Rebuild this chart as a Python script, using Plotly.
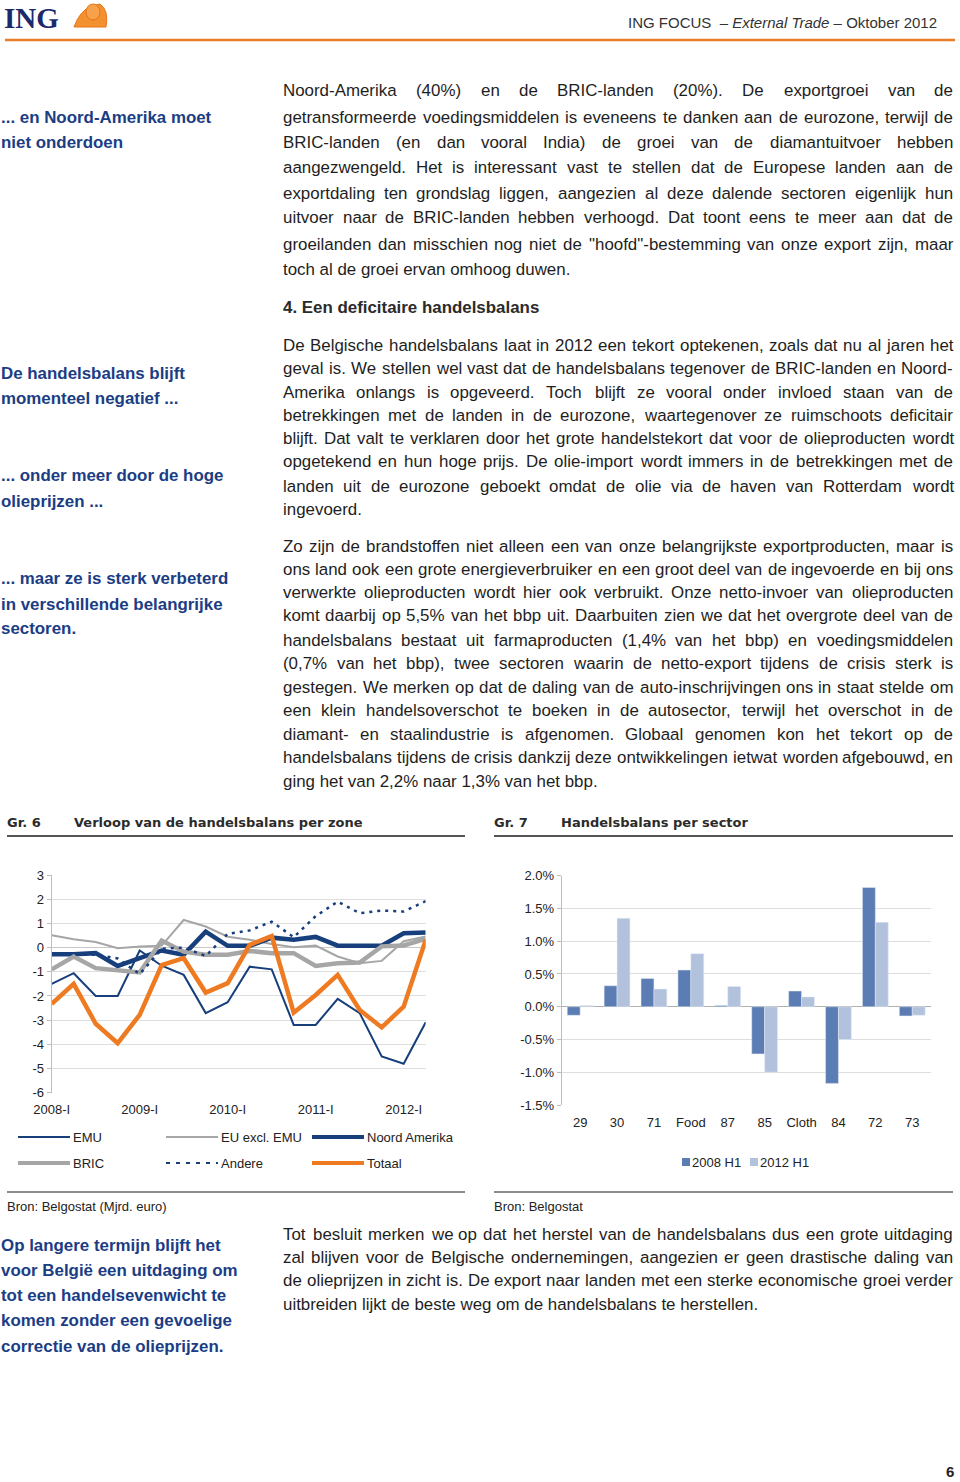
import plotly.graph_objects as go

W, H = 960, 1482

# ---------------- Chart 6 data (Mjrd. euro) ----------------
quarters = ["2008-I", "2008-II", "2008-III", "2008-IV", "2009-I", "2009-II", "2009-III", "2009-IV",
            "2010-I", "2010-II", "2010-III", "2010-IV", "2011-I", "2011-II", "2011-III", "2011-IV",
            "2012-I", "2012-II"]
year_ticks = ["2008-I", "2009-I", "2010-I", "2011-I", "2012-I"]
emu = [-1.50, -1.06, -2.00, -2.00, -0.12, -0.75, -1.13, -2.71, -2.26, -0.79, -0.90, -3.20, -3.20, -2.12, -2.71, -4.50, -4.80, -3.09]
eu_excl_emu = [0.51, 0.34, 0.23, -0.03, 0.04, 0.08, 1.14, 0.87, 0.45, 0.32, 0.15, 0.01, 0.08, -0.37, -0.65, -0.55, 0.26, 0.46]
noord_amerika = [-0.28, -0.28, -0.23, -0.76, -0.44, -0.12, -0.30, 0.66, 0.07, 0.07, 0.41, 0.32, 0.44, 0.08, 0.08, 0.08, 0.59, 0.62]
bric = [-0.90, -0.37, -0.85, -0.95, -1.03, 0.29, -0.17, -0.30, -0.30, -0.14, -0.23, -0.23, -0.76, -0.65, -0.62, 0.05, 0.09, 0.36]
andere = [-0.30, -0.30, -0.30, -0.45, -1.10, -0.05, 0.00, -0.35, 0.57, 0.71, 1.07, 0.43, 1.30, 1.90, 1.42, 1.53, 1.49, 1.92]
totaal = [-2.33, -1.50, -3.15, -3.95, -2.78, -0.72, -0.44, -1.86, -1.47, 0.11, 0.48, -2.69, -1.96, -1.13, -2.58, -3.30, -2.44, 0.32]
y6_ticks = [3, 2, 1, 0, -1, -2, -3, -4, -5, -6]

# ---------------- Chart 7 data (% bbp) ----------------
sectors = ["29", "30", "71", "Food", "87", "85", "Cloth", "84", "72", "73"]
h1_2008 = [-0.13, 0.32, 0.43, 0.56, 0.02, -0.72, 0.24, -1.17, 1.82, -0.14]
h1_2012 = [0.02, 1.35, 0.27, 0.81, 0.31, -1.00, 0.15, -0.50, 1.29, -0.13]
y7_ticks = [2.0, 1.5, 1.0, 0.5, 0.0, -0.5, -1.0, -1.5]

# ---------------- Texts ----------------
header_right = "ING FOCUS  – <i>External Trade</i> – Oktober 2012"
side_notes = [
    (117, "... en Noord-Amerika moet"), (142, "niet onderdoen"),
    (373, "De handelsbalans blijft"), (399, "momenteel negatief ..."),
    (476, "... onder meer door de hoge"), (501, "olieprijzen ..."),
    (578, "... maar ze is sterk verbeterd"), (604, "in verschillende belangrijke"), (629, "sectoren."),
    (1245, "Op langere termijn blijft het"), (1270, "voor België een uitdaging om"),
    (1295, "tot een handelsevenwicht te"), (1320, "komen zonder een gevoelige"),
    (1346, "correctie van de olieprijzen."),
]
# (y, text, justified?)
body_lines = [
    (91, "Noord-Amerika (40%) en de BRIC-landen (20%). De exportgroei van de", True),
    (117, "getransformeerde voedingsmiddelen is eveneens te danken aan de eurozone, terwijl de", True),
    (142, "BRIC-landen (en dan vooral India) de groei van de diamantuitvoer hebben", True),
    (168, "aangezwengeld. Het is interessant vast te stellen dat de Europese landen aan de", True),
    (193, "exportdaling ten grondslag liggen, aangezien al deze dalende sectoren eigenlijk hun", True),
    (218, "uitvoer naar de BRIC-landen hebben verhoogd. Dat toont eens te meer aan dat de", True),
    (244, "groeilanden dan misschien nog niet de \"hoofd\"-bestemming van onze export zijn, maar", True),
    (269, "toch al de groei ervan omhoog duwen.", False),
    (345, "De Belgische handelsbalans laat in 2012 een tekort optekenen, zoals dat nu al jaren het", True),
    (368, "geval is. We stellen wel vast dat de handelsbalans tegenover de BRIC-landen en Noord-", True),
    (392, "Amerika onlangs is opgeveerd. Toch blijft ze vooral onder invloed staan van de", True),
    (415, "betrekkingen met de landen in de eurozone, waartegenover ze ruimschoots deficitair", True),
    (439, "blijft. Dat valt te verklaren door het grote handelstekort dat voor de olieproducten wordt", True),
    (462, "opgetekend en hun hoge prijs. De olie-import wordt immers in de betrekkingen met de", True),
    (486, "landen uit de eurozone geboekt omdat de olie via de haven van Rotterdam wordt", True),
    (509, "ingevoerd.", False),
    (546, "Zo zijn de brandstoffen niet alleen een van onze belangrijkste exportproducten, maar is", True),
    (569, "ons land ook een grote energieverbruiker en een groot deel van de ingevoerde en bij ons", True),
    (593, "verwerkte olieproducten wordt hier ook verbruikt. Onze netto-invoer van olieproducten", True),
    (616, "komt daarbij op 5,5% van het bbp uit. Daarbuiten zien we dat het overgrote deel van de", True),
    (640, "handelsbalans bestaat uit farmaproducten (1,4% van het bbp) en voedingsmiddelen", True),
    (663, "(0,7% van het bbp), twee sectoren waarin de netto-export tijdens de crisis sterk is", True),
    (687, "gestegen. We merken op dat de daling van de auto-inschrijvingen ons in staat stelde om", True),
    (710, "een klein handelsoverschot te boeken in de autosector, terwijl het overschot in de", True),
    (734, "diamant- en staalindustrie is afgenomen. Globaal genomen kon het tekort op de", True),
    (757, "handelsbalans tijdens de crisis dankzij deze ontwikkelingen ietwat worden afgebouwd, en", True),
    (781, "ging het van 2,2% naar 1,3% van het bbp.", False),
    (1234, "Tot besluit merken we op dat het herstel van de handelsbalans dus een grote uitdaging", True),
    (1257, "zal blijven voor de Belgische ondernemingen, aangezien er geen drastische daling van", True),
    (1280, "de olieprijzen in zicht is. De export naar landen met een sterke economische groei verder", True),
    (1304, "uitbreiden lijkt de beste weg om de handelsbalans te herstellen.", False),
]
section_heading = "4. Een deficitaire handelsbalans"

FONT = "Liberation Sans, Arial, sans-serif"
BODY = "#1e1e1e"
NAVY_TXT = "#1b3d84"
NAVY = "#173f7c"
ORANGE = "#ee7a22"
GRAY = "#a6a6a6"
BODY_SIZE = 16.9

# Arial / Liberation Sans advance widths (per 1000 em)
AW = {' ': 278, '!': 278, '"': 355, '%': 889, '(': 333, ')': 333, ',': 278, '-': 333, '.': 278,
      ':': 278, ';': 278, '?': 556, 'A': 667, 'B': 667, 'C': 722, 'D': 722, 'E': 667, 'F': 611,
      'G': 778, 'H': 722, 'I': 278, 'J': 500, 'K': 667, 'L': 556, 'M': 833, 'N': 722, 'O': 778,
      'P': 667, 'Q': 778, 'R': 722, 'S': 667, 'T': 611, 'U': 722, 'V': 667, 'W': 944, 'X': 667,
      'Y': 667, 'Z': 611, 'a': 556, 'b': 556, 'c': 500, 'd': 556, 'e': 556, 'f': 278, 'g': 556,
      'h': 556, 'i': 222, 'j': 222, 'k': 500, 'l': 222, 'm': 833, 'n': 556, 'o': 556, 'p': 556,
      'q': 556, 'r': 333, 's': 500, 't': 278, 'u': 556, 'v': 500, 'w': 722, 'x': 500, 'y': 500,
      'z': 500, 'ë': 556}


def text_width(s, size):
    return sum(AW.get(c, 556) for c in s) * size / 1000.0


def num_label(v, fmt):
    return (fmt % v).replace("\u2212", "-")


fig = go.Figure()


def T(x, y, s, size=BODY_SIZE, color=BODY, anchor="left", family=FONT):
    fig.add_annotation(x=x / W, y=1 - y / H, xref="paper", yref="paper", text=s,
                       showarrow=False, xanchor=anchor, yanchor="middle",
                       borderpad=0, borderwidth=0,
                       font=dict(family=family, size=size, color=color))


def hline(x0, x1, y, color, width, dash=None):
    fig.add_shape(type="line", xref="paper", yref="paper", x0=x0 / W, x1=x1 / W,
                  y0=1 - y / H, y1=1 - y / H, line=dict(color=color, width=width, dash=dash))


# ---------------- Chart 6 traces ----------------
styles6 = [
    ("EMU", emu, dict(color=NAVY, width=2)),
    ("EU excl. EMU", eu_excl_emu, dict(color=GRAY, width=2)),
    ("Noord Amerika", noord_amerika, dict(color=NAVY, width=4.5)),
    ("BRIC", bric, dict(color=GRAY, width=4.5)),
    ("Andere", andere, dict(color=NAVY, width=2.5, dash="3px,5px")),
    ("Totaal", totaal, dict(color=ORANGE, width=4.5)),
]
for name, vals, ln in styles6:
    fig.add_trace(go.Scatter(x=quarters, y=vals, name=name, mode="lines", line=ln,
                             showlegend=False, xaxis="x", yaxis="y"))

# ---------------- Chart 7 traces ----------------
C2008 = "#5b7db4"
C2012 = "#b3c2dc"
fig.add_trace(go.Bar(x=sectors, y=h1_2008, name="2008 H1", marker_color=C2008,
                     showlegend=False, xaxis="x2", yaxis="y2"))
fig.add_trace(go.Bar(x=sectors, y=h1_2012, name="2012 H1", marker_color=C2012,
                     showlegend=False, xaxis="x2", yaxis="y2"))

tickfont = dict(family=FONT, size=13, color="#222")
fig.update_layout(
    width=W, height=H, margin=dict(l=0, r=0, t=0, b=0, autoexpand=False),
    paper_bgcolor="white", plot_bgcolor="white",
    barmode="group", bargap=0.3, bargroupgap=0,
    xaxis=dict(domain=[51.7 / W, 425.7 / W], type="category", categoryorder="array",
               categoryarray=quarters, range=[0, 17], tickvals=year_ticks, ticktext=year_ticks,
               showgrid=False, showline=False, zeroline=False, ticks="outside", ticklen=5,
               tickcolor="rgba(0,0,0,0)", tickfont=tickfont, anchor="y", automargin=False),
    yaxis=dict(domain=[1 - 1092.7 / H, 1 - 875 / H], range=[-6, 3],
               tickvals=y6_ticks, ticktext=[num_label(v, "%d") for v in y6_ticks],
               showgrid=True, gridcolor="#dedede", gridwidth=1, showline=True, linecolor="#bdbdbd",
               zeroline=True, zerolinecolor="#c8c8c8", zerolinewidth=1,
               ticks="outside", ticklen=4, tickcolor="#bdbdbd", tickfont=tickfont, anchor="x",
               automargin=False),
    xaxis2=dict(domain=[561.7 / W, 930.7 / W], type="category", showgrid=False, showline=False,
                zeroline=False, ticks="outside", ticklen=5, tickcolor="rgba(0,0,0,0)",
                tickfont=tickfont, anchor="y2", automargin=False),
    yaxis2=dict(domain=[1 - 1105 / H, 1 - 875.7 / H], range=[-1.5, 2.0],
                tickvals=y7_ticks, ticktext=[num_label(v, "%.1f%%") for v in y7_ticks],
                showgrid=True, gridcolor="#dedede",
                showline=True, linecolor="#bdbdbd", zeroline=True, zerolinecolor="#b0b0b0",
                zerolinewidth=1, ticks="outside", ticklen=4, tickcolor="#bdbdbd",
                tickfont=tickfont, anchor="x2", automargin=False),
)

# ---------------- Header ----------------
T(4, 18, "<b>ING</b>", size=29, color="#1c2a6b", family="Liberation Serif, Times New Roman, serif")
fig.add_shape(type="path", xref="paper", yref="paper",
              path="M {0} {1} Q {2} {3} {4} {5} L {6} {7} Q {8} {9} {10} {11} L {12} {13} Z".format(
                  74 / W, 1 - 27 / H, 80 / W, 1 - 10 / H, 92 / W, 1 - 6 / H, 100 / W, 1 - 4 / H,
                  109 / W, 1 - 10 / H, 106 / W, 1 - 27 / H, 74 / W, 1 - 27 / H),
              fillcolor="#f39130", line=dict(color="#e67418", width=1))
fig.add_shape(type="circle", xref="paper", yref="paper", x0=86 / W, x1=100 / W,
              y0=1 - 20 / H, y1=1 - 4 / H, fillcolor="#f7a24a", line=dict(color="#e67418", width=1))
T(937, 22, header_right, size=15, color="#333", anchor="right")
hline(5, 955, 40, "#ec7c26", 2.5)

# ---------------- Side notes ----------------
for y, s in side_notes:
    T(1, y, "<b>" + s + "</b>", size=BODY_SIZE, color=NAVY_TXT)

# ---------------- Body text (justified word by word) ----------------
X0, X1 = 283, 953
for y, line, just in body_lines:
    words = line.split(" ")
    if not just or len(words) < 2:
        T(X0, y, line)
        continue
    ws = [text_width(w, BODY_SIZE) for w in words]
    gap = (X1 - X0 - sum(ws)) / (len(words) - 1)
    gap = max(gap, text_width(" ", BODY_SIZE) * 0.6)
    x = X0
    for w, wd in zip(words, ws):
        T(x, y, w)
        x += wd + gap

T(X0, 307, "<b>" + section_heading + "</b>", color="#2b2b2b")

# ---------------- Chart titles / frames ----------------
TFONT = "DejaVu Sans, sans-serif"
T(7, 822, "<b>Gr. 6</b>", size=13, color="#2b2b2b", family=TFONT)
T(74, 822, "<b>Verloop van de handelsbalans per zone</b>", size=13, color="#2b2b2b", family=TFONT)
T(494, 822, "<b>Gr. 7</b>", size=13, color="#2b2b2b", family=TFONT)
T(561, 822, "<b>Handelsbalans per sector</b>", size=13, color="#2b2b2b", family=TFONT)
hline(7, 465, 836, "#555", 1.8)
hline(494, 953, 836, "#555", 1.8)
hline(7, 465, 1192, "#666", 1.5)
hline(494, 953, 1192, "#666", 1.5)
T(7, 1206, "Bron: Belgostat (Mjrd. euro)", size=13, color="#222")
T(494, 1206, "Bron: Belgostat", size=13, color="#222")

# ---------------- Chart 6 legend ----------------
leg6 = [
    (18, 1137, "EMU", dict(color=NAVY, width=2)),
    (166, 1137, "EU excl. EMU", dict(color=GRAY, width=2)),
    (312, 1137, "Noord Amerika", dict(color=NAVY, width=4)),
    (18, 1163, "BRIC", dict(color=GRAY, width=4)),
    (166, 1163, "Andere", dict(color=NAVY, width=2, dash="4px,6px")),
    (312, 1163, "Totaal", dict(color=ORANGE, width=4)),
]
for x, y, lab, ln in leg6:
    fig.add_shape(type="line", xref="paper", yref="paper", x0=x / W, x1=(x + 52) / W,
                  y0=1 - y / H, y1=1 - y / H, line=ln)
    T(x + 55, y, lab, size=13, color="#222")

# ---------------- Chart 7 legend ----------------
for x, lab, col in [(682, "2008 H1", C2008), (750, "2012 H1", C2012)]:
    fig.add_shape(type="rect", xref="paper", yref="paper", x0=x / W, x1=(x + 8) / W,
                  y0=1 - 1166 / H, y1=1 - 1158 / H, fillcolor=col, line=dict(width=0))
    T(x + 10, 1162, lab, size=13, color="#222")

# ---------------- Page number ----------------
T(954, 1471, "<b>6</b>", size=15, color="#222", anchor="right")

fig.write_html("out.html", config={"displayModeBar": False},
               post_script="document.body.style.margin='0';document.body.style.padding='0';")
